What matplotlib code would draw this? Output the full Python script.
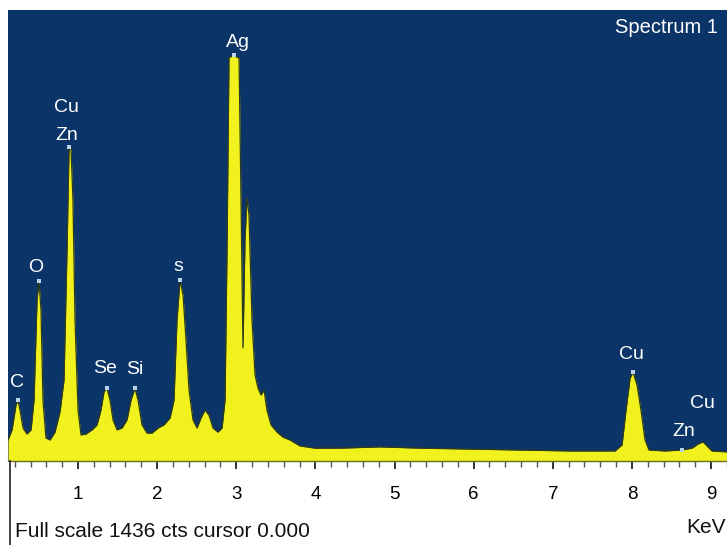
import matplotlib
matplotlib.use("Agg")
import matplotlib.pyplot as plt
from matplotlib.lines import Line2D
from matplotlib.ticker import MultipleLocator

plt.rcParams['font.family'] = ['Liberation Sans', 'DejaVu Sans']

# spectrum (energy in keV, counts)
energy_kev = [0.115, 0.166, 0.216, 0.241, 0.267, 0.305, 0.355, 0.406, 0.444, 0.482,
              0.507, 0.532, 0.557, 0.595, 0.646, 0.709, 0.772, 0.823, 0.861, 0.886,
              0.911, 0.936, 0.962, 1.000, 1.038, 1.101, 1.177, 1.240, 1.290, 1.328,
              1.366, 1.404, 1.442, 1.493, 1.556, 1.619, 1.670, 1.720, 1.758, 1.809,
              1.872, 1.935, 2.011, 2.087, 2.163, 2.213, 2.251, 2.289, 2.327, 2.365,
              2.403, 2.453, 2.504, 2.554, 2.605, 2.655, 2.706, 2.769, 2.820, 2.858,
              2.883, 2.908, 2.971, 3.035, 3.060, 3.085, 3.110, 3.136, 3.161, 3.199,
              3.237, 3.275, 3.313, 3.351, 3.388, 3.439, 3.515, 3.591, 3.679, 3.805,
              3.995, 4.311, 4.816, 5.322, 5.954, 6.586, 7.218, 7.787, 7.875, 7.926,
              7.977, 8.014, 8.065, 8.115, 8.166, 8.216, 8.418, 8.633, 8.760, 8.836,
              8.899, 8.949, 9.012, 9.202]
counts = [67, 99, 178, 194, 162, 105, 86, 99, 194, 513,
          573, 481, 194, 73, 67, 92, 156, 258, 672, 990,
          997, 831, 449, 162, 83, 86, 99, 115, 162, 220,
          232, 194, 131, 99, 105, 131, 194, 232, 194, 115,
          89, 89, 105, 115, 137, 194, 449, 576, 529, 385,
          226, 131, 105, 137, 162, 146, 105, 92, 105, 194,
          672, 1286, 1290, 1283, 831, 360, 704, 837, 783, 449,
          274, 232, 210, 226, 162, 115, 92, 76, 67, 48,
          41, 41, 45, 41, 38, 35, 32, 32, 51, 162,
          264, 283, 242, 162, 67, 35, 32, 35, 41, 54,
          61, 48, 32, 29]

# peak labels: name, energy of label, label height
label_names = ['C', 'O', 'Cu', 'Zn', 'Se', 'Si', 's', 'Ag', 'Cu', 'Zn', 'Cu']
label_kev = [0.229, 0.469, 0.848, 0.861, 1.341, 1.714, 2.264, 3.015, 7.995, 8.652, 8.886]
label_cts = [236, 602, 1111, 1022, 280, 277, 605, 1318, 325, 80, 169]

# small markers at the labelled peak tops
marker_kev = [0.241, 0.507, 0.886, 1.366, 1.720, 2.289, 2.971, 8.014, 8.633]
marker_cts = [194, 573, 1000, 232, 232, 576, 1292, 283, 35]

full_scale = 1436
x_ticks = [1, 2, 3, 4, 5, 6, 7, 8, 9]

W, H = 727, 545
fig = plt.figure(figsize=(W / 100, H / 100), dpi=100)
fig.patch.set_facecolor('white')
ax = fig.add_axes([8 / W, (H - 461) / H, 719 / W, 451 / H])
ax.set_facecolor('#0b3468')

ax.fill_between(energy_kev, counts, 0, color='#f0f11d', linewidth=0)
ax.plot(energy_kev, counts, color='#2e3b1c', linewidth=0.9)
ax.plot(marker_kev, marker_cts, linestyle='none', marker='s', markersize=3,
        color='#b9d3ea', markeredgewidth=0)

for name, kx, ky in zip(label_names, label_kev, label_cts):
    ax.text(kx, ky, name, color='white', fontsize=14, ha='center', va='baseline')
ax.text(0.987, (461 - 33) / 451, 'Spectrum 1', color='white', fontsize=14.5,
        ha='right', va='baseline', transform=ax.transAxes)

ax.set_xlim(0.115, 9.202)
ax.set_ylim(0, full_scale)
ax.set_yticks([])
ax.set_xticks(x_ticks)
ax.xaxis.set_minor_locator(MultipleLocator(0.2))
ax.tick_params(axis='x', which='major', direction='out', length=6, width=1.4,
               color='#333333', labelsize=13.5, pad=12)
ax.tick_params(axis='x', which='minor', direction='out', length=4, width=1,
               color='#555555')
for s in ['top', 'right', 'left']:
    ax.spines[s].set_visible(False)
ax.spines['bottom'].set_color('#6b6b2a')
ax.spines['bottom'].set_linewidth(1)

fig.add_artist(Line2D([9.5 / W, 9.5 / W], [0, (H - 461) / H], color='#222222',
                      linewidth=1.2, transform=fig.transFigure))
fig.text(15 / W, 1 - 537 / H, 'Full scale 1436 cts cursor 0.000', fontsize=15,
         color='#111111', ha='left', va='baseline')
fig.text(686 / W, 1 - 533 / H, 'KeV', fontsize=15, color='#111111',
         ha='left', va='baseline')

fig.savefig('out.png', dpi=100, facecolor='white')
